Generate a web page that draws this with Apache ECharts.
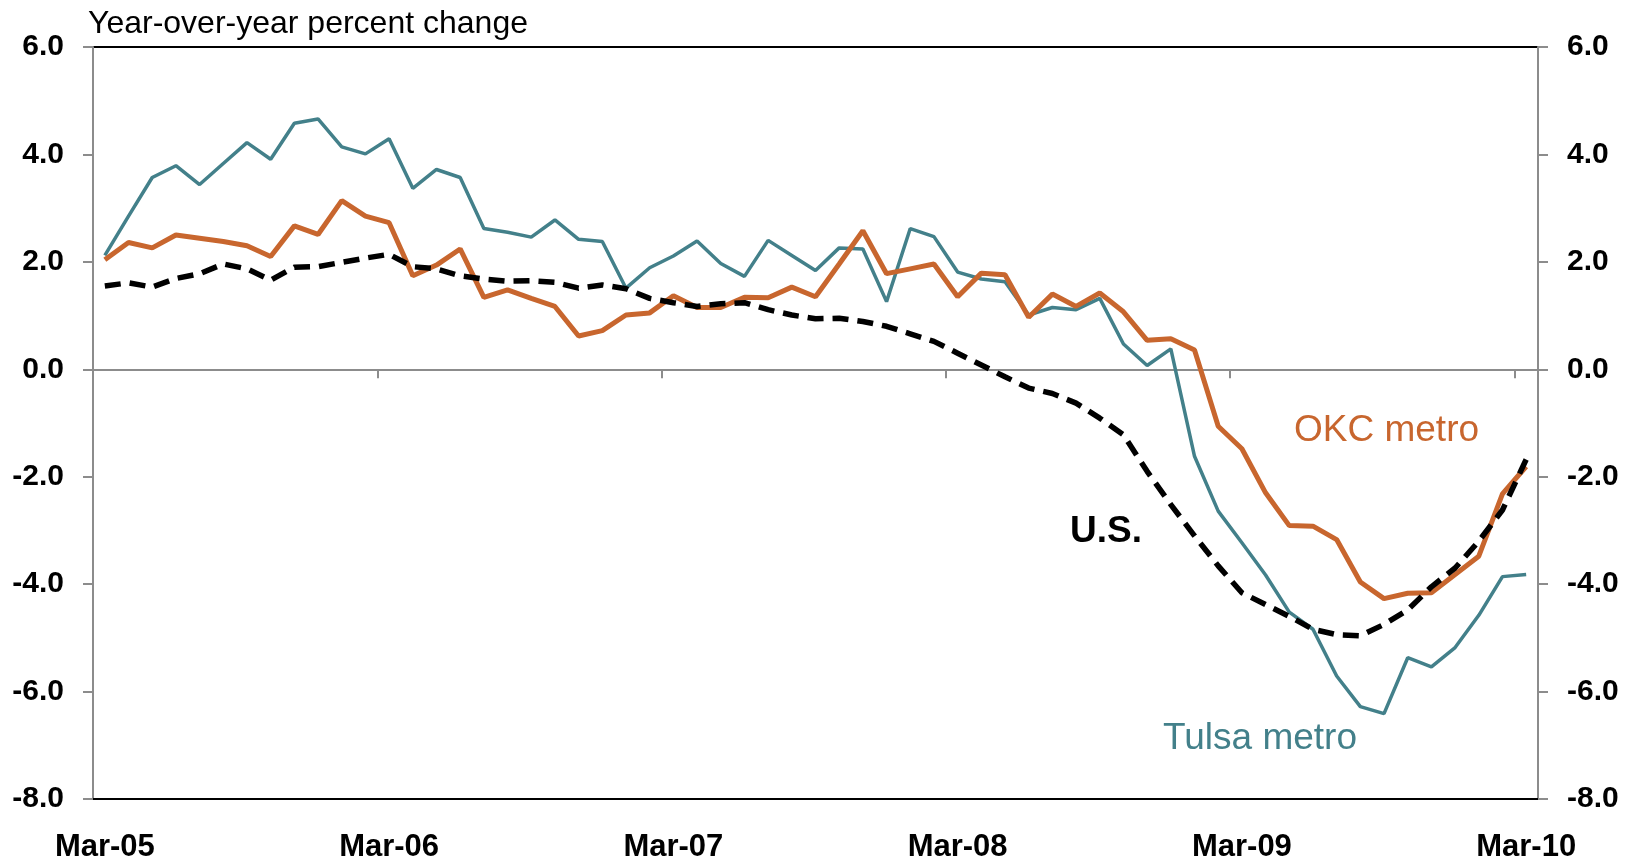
<!DOCTYPE html>
<html>
<head>
<meta charset="utf-8">
<title>Year-over-year percent change</title>
<script src="https://cdn.jsdelivr.net/npm/echarts@6/dist/echarts.min.js"></script>
<style>
  html, body { margin: 0; padding: 0; background: #fff; }
  #chart { width: 1630px; height: 863px; }
</style>
</head>
<body>
<div id="chart"></div>
<script>
// monthly categories, Mar-05 .. Mar-10
var months = [
  'Mar-05','Apr-05','May-05','Jun-05','Jul-05','Aug-05','Sep-05','Oct-05','Nov-05','Dec-05','Jan-06','Feb-06',
  'Mar-06','Apr-06','May-06','Jun-06','Jul-06','Aug-06','Sep-06','Oct-06','Nov-06','Dec-06','Jan-07','Feb-07',
  'Mar-07','Apr-07','May-07','Jun-07','Jul-07','Aug-07','Sep-07','Oct-07','Nov-07','Dec-07','Jan-08','Feb-08',
  'Mar-08','Apr-08','May-08','Jun-08','Jul-08','Aug-08','Sep-08','Oct-08','Nov-08','Dec-08','Jan-09','Feb-09',
  'Mar-09','Apr-09','May-09','Jun-09','Jul-09','Aug-09','Sep-09','Oct-09','Nov-09','Dec-09','Jan-10','Feb-10',
  'Mar-10'
];

// Tulsa metro
var tulsa = [
  2.12, 2.85, 3.57, 3.79, 3.44, 3.83, 4.22, 3.91, 4.58, 4.66,
  4.14, 4.01, 4.29, 3.37, 3.72, 3.57, 2.62, 2.55, 2.46, 2.78,
  2.42, 2.38, 1.51, 1.89, 2.11, 2.39, 1.97, 1.73, 2.40, 2.12,
  1.84, 2.26, 2.24, 1.26, 2.62, 2.47, 1.81, 1.68, 1.63, 1.01,
  1.15, 1.11, 1.32, 0.47, 0.07, 0.38, -1.62, -2.64, -3.23, -3.83,
  -4.52, -4.84, -5.71, -6.28, -6.41, -5.37, -5.54, -5.18, -4.58, -3.86,
  -3.82
];

// OKC metro
var okc = [
  2.04, 2.36, 2.26, 2.50, 2.44, 2.38, 2.30, 2.10, 2.67, 2.51,
  3.14, 2.85, 2.73, 1.74, 1.94, 2.24, 1.34, 1.48, 1.32, 1.17,
  0.62, 0.72, 1.01, 1.05, 1.37, 1.15, 1.15, 1.34, 1.33, 1.53,
  1.35, 1.96, 2.58, 1.78, 1.87, 1.96, 1.35, 1.79, 1.76, 0.97,
  1.40, 1.17, 1.42, 1.07, 0.54, 0.57, 0.36, -1.06, -1.48, -2.30,
  -2.91, -2.92, -3.17, -3.96, -4.27, -4.17, -4.16, -3.82, -3.48, -2.32,
  -1.81
];

// U.S.
var us = [
  1.55, 1.61, 1.53, 1.69, 1.78, 1.96, 1.87, 1.66, 1.90, 1.91,
  1.99, 2.07, 2.14, 1.91, 1.87, 1.74, 1.68, 1.64, 1.65, 1.62,
  1.51, 1.57, 1.50, 1.32, 1.24, 1.17, 1.22, 1.24, 1.11, 1.01,
  0.94, 0.95, 0.89, 0.80, 0.66, 0.52, 0.30, 0.08, -0.14, -0.35,
  -0.45, -0.63, -0.91, -1.22, -1.90, -2.52, -3.10, -3.66, -4.16, -4.38,
  -4.60, -4.84, -4.94, -4.96, -4.75, -4.48, -4.05, -3.70, -3.20, -2.62,
  -1.68
];

var yMin = -8, yMax = 6, yStep = 2;

var FONT = '"Liberation Sans", Arial, sans-serif';
var TEAL = '#43808a';
var ORANGE = '#c8662e';
var GREY = '#8c8c8c';

var chart = echarts.init(document.getElementById('chart'));

function yAxisCfg(pos) {
  return {
    type: 'value',
    position: pos,
    min: yMin,
    max: yMax,
    interval: yStep,
    axisLine: { show: true, lineStyle: { color: GREY, width: 2 } },
    axisTick: { show: true, length: 10, lineStyle: { color: GREY, width: 2 } },
    axisLabel: {
      margin: 29,
      color: '#000',
      fontFamily: FONT,
      fontWeight: 'bold',
      fontSize: 30,
      formatter: function (v) { return v.toFixed(1); }
    },
    splitLine: { show: false }
  };
}

chart.setOption({
  animation: false,
  grid: {
    left: 93, right: 92, top: 47, bottom: 63,
    show: true,
    borderColor: '#000',
    borderWidth: 2
  },
  xAxis: [
    {
      // labels along the bottom
      type: 'category',
      data: months,
      position: 'bottom',
      boundaryGap: true,
      axisLine: { onZero: false, lineStyle: { color: '#000', width: 2 } },
      axisTick: { show: false },
      axisLabel: {
        interval: 11,
        margin: 33,
        color: '#000',
        fontFamily: FONT,
        fontWeight: 'bold',
        fontSize: 31
      },
      splitLine: { show: false }
    },
    {
      // zero line with the year ticks
      type: 'category',
      data: months,
      position: 'top',
      boundaryGap: true,
      axisLine: { onZero: true, lineStyle: { color: GREY, width: 2 } },
      axisTick: { show: true, inside: true, interval: 11, length: 9, lineStyle: { color: GREY, width: 2 } },
      axisLabel: { show: false },
      splitLine: { show: false }
    }
  ],
  yAxis: [yAxisCfg('left'), yAxisCfg('right')],
  series: [
    {
      name: 'Tulsa metro',
      type: 'line',
      data: tulsa,
      symbol: 'none',
      lineStyle: { color: TEAL, width: 3.5 }
    },
    {
      name: 'OKC metro',
      type: 'line',
      data: okc,
      symbol: 'none',
      lineStyle: { color: ORANGE, width: 5 }
    },
    {
      name: 'U.S.',
      type: 'line',
      data: us,
      symbol: 'none',
      lineStyle: { color: '#000', width: 5.5, type: [16, 9] }
    }
  ],
  graphic: [
    {
      type: 'text', x: 88, y: 24,
      style: { text: 'Year-over-year percent change', fill: '#000', font: '32px ' + FONT, verticalAlign: 'middle' }
    },
    {
      type: 'text', x: 1070, y: 532,
      style: { text: 'U.S.', fill: '#000', font: 'bold 37px ' + FONT, verticalAlign: 'middle' }
    },
    {
      type: 'text', x: 1294, y: 431,
      style: { text: 'OKC metro', fill: ORANGE, font: '37px ' + FONT, verticalAlign: 'middle' }
    },
    {
      type: 'text', x: 1163, y: 739,
      style: { text: 'Tulsa metro', fill: TEAL, font: '37px ' + FONT, verticalAlign: 'middle' }
    }
  ]
});
</script>
</body>
</html>
